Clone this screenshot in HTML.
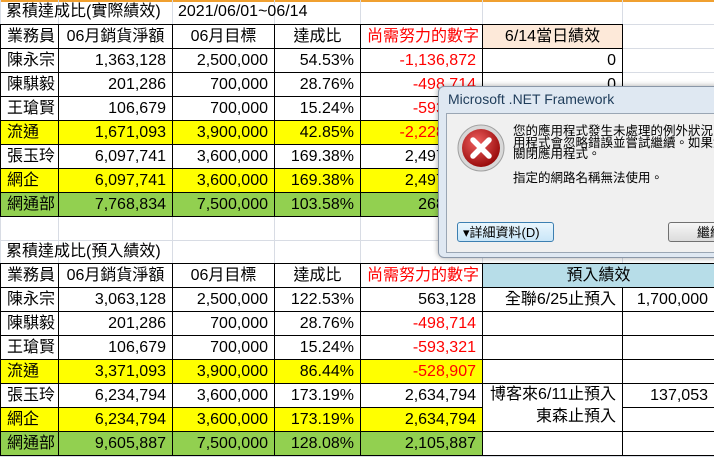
<!DOCTYPE html>
<html><head><meta charset="utf-8">
<style>
body{margin:0;width:714px;height:457px;overflow:hidden;background:#fff;position:relative;font-family:"Liberation Sans","Noto Sans CJK TC",sans-serif;font-size:16px;color:#000}
.c{position:absolute;box-sizing:border-box;white-space:nowrap;overflow:hidden;line-height:23px;padding:0 6px}
.g{position:absolute;background:#d8dce4}
.dlg{position:absolute;left:438px;top:86px;width:290px;height:170px;background:#dfe8f2;border:1px solid #8a97a8;border-radius:6px;box-shadow:0 0 6px rgba(0,0,0,.35)}
.inner{position:absolute;left:7px;top:26px;right:0;bottom:4px;background:#f0f0f0;border:1px solid #9aa6b4;overflow:hidden}
.btn{position:absolute;top:108px;height:20px;border:1px solid #707070;border-radius:3px;background:linear-gradient(#f6f6f6,#dcdcdc);font-size:13px;line-height:20px;box-sizing:border-box;white-space:nowrap}
.ml{position:absolute;left:66px;font-size:12.5px;line-height:13px;white-space:nowrap;color:#000}
</style></head>
<body>
<div style="position:absolute;left:0;top:0;width:714px;height:2px;background:#f0a030"></div>
<div id="sheet"></div>

<div class="dlg">
 <div style="position:absolute;left:9px;top:4px;font-size:14px;color:#1e3c5a;white-space:nowrap">Microsoft .NET Framework</div>
 <div class="inner">
  <svg style="position:absolute;left:9px;top:9px" width="50" height="50" viewBox="0 0 50 50">
   <defs><radialGradient id="rg" cx="40%" cy="35%" r="65%"><stop offset="0" stop-color="#f06060"/><stop offset="1" stop-color="#9a0c0c"/></radialGradient></defs>
   <circle cx="25" cy="25" r="23" fill="#d8d8d8" stroke="#a0a0a0"/>
   <circle cx="25" cy="25" r="19" fill="url(#rg)"/>
   <path d="M17 17 L33 33 M33 17 L17 33" stroke="#fff" stroke-width="5.5" stroke-linecap="round"/>
  </svg>
  <div class="ml" style="top:11px">您的應用程式發生未處理的例外狀況。如果</div>
  <div class="ml" style="top:22.5px">用程式會忽略錯誤並嘗試繼續。如果您</div>
  <div class="ml" style="top:34px">關閉應用程式。</div>
  <div class="ml" style="top:58px">指定的網路名稱無法使用。</div>
  <div class="btn" style="left:10px;width:97px;padding-left:5px;border-color:#3c7fb1;background:linear-gradient(#eaf6fd,#c9e6f8)">▾詳細資料(D)</div>
  <div class="btn" style="left:221px;width:80px;padding-left:28px">繼續</div>
 </div>
</div>

<script>
const cols=[0,58,172,274,360,482,622,714];
const hdr=["業務員","06月銷貨淨額","06月目標","達成比","尚需努力的數字"];
const names=["陳永宗","陳騏毅","王瑲賢","流通","張玉玲","網企","網通部"];
const sales1=["1,363,128","201,286","106,679","1,671,093","6,097,741","6,097,741","7,768,834"];
const target=["2,500,000","700,000","700,000","3,900,000","3,600,000","3,600,000","7,500,000"];
const rate1=["54.53%","28.76%","15.24%","42.85%","169.38%","169.38%","103.58%"];
const gap1=["-1,136,872","-498,714","-593,321","-2,228,907","2,497,741","2,497,741","268,834"];
const day1=["0","0","0","0","0","0","0"];
const sales2=["3,063,128","201,286","106,679","3,371,093","6,234,794","6,234,794","9,605,887"];
const rate2=["122.53%","28.76%","15.24%","86.44%","173.19%","173.19%","128.08%"];
const gap2=["563,128","-498,714","-593,321","-528,907","2,634,794","2,634,794","2,105,887"];
const pre2=["1,700,000","","","","137,053","",""];
const rowBg=["#fff","#fff","#fff","#ffff00","#fff","#ffff00","#92d050"];
const S=document.getElementById('sheet');
function g(x,y,w,h){const d=document.createElement('div');d.className='g';


d.style.cssText=`left:${x}px;top:${y}px;width:${w}px;height:${h}px`;S.appendChild(d);}
cols.forEach(x=>g(x,0,1,457));
for(let y=24;y<457;y+=24)g(0,y,714,1);
g(0,263,714,1);
function cell(x1,x2,y1,y2,t,o){o=o||{};const d=document.createElement('div');d.className='c';


d.style.left=x1+'px';d.style.top=y1+'px';d.style.width=(x2-x1+(o.nb?0:1))+'px';d.style.height=(y2-y1+(o.nb?0:1))+'px';
if(!o.nb)d.style.border='1px solid #000';
d.style.background=o.bg||(o.nb?'transparent':'#fff');
d.style.textAlign=o.al||'right';if(o.col)d.style.color=o.col;if(o.lh)d.style.lineHeight=o.lh;
d.innerHTML=t;S.appendChild(d);}
cell(0,172,0,24,"累積達成比(實際績效)",{nb:1,al:'left',name:'title-actual'});
cell(172,360,0,24,"2021/06/01~06/14",{nb:1,al:'left',name:'date-range'});
cell(0,360,240,263,"累積達成比(預入績效)",{nb:1,al:'left',name:'title-forecast'});
function table(y0,sales,rate,gap,name){
 hdr.forEach((h,i)=>cell(cols[i],cols[i+1],y0,y0+24,h,{al:i==0?'left':'center',col:i==4?'#ff0000':null,name:name+'-header-'+i}));
 names.forEach((n,r)=>{const y=y0+24*(r+1),bg=rowBg[r];
  cell(cols[0],cols[1],y,y+24,n,{al:'left',bg,name:name+'-name'});
  cell(cols[1],cols[2],y,y+24,sales[r],{bg,name:name+'-sales'});
  cell(cols[2],cols[3],y,y+24,target[r],{bg,name:name+'-target'});
  cell(cols[3],cols[4],y,y+24,rate[r],{bg,name:name+'-rate'});
  cell(cols[4],cols[5],y,y+24,gap[r],{bg,col:gap[r][0]=='-'?'#ff0000':null,name:name+'-gap'});
 });}
table(24,sales1,rate1,gap1,'actual');
cell(cols[5],cols[6],24,48,"6/14當日績效",{al:'center',bg:'#fde9d9',name:'today-header'});
day1.forEach((v,r)=>cell(cols[5],cols[6],48+24*r,72+24*r,v,{name:'today-value'}));
table(263,sales2,rate2,gap2,'forecast');
cell(cols[5],cols[7],263,287,"預入績效",{al:'center',bg:'#b7dde8',name:'forecast-header'});
const lab=["全聯6/25止預入","","","",null,null,""];
[0,1,2,3,6].forEach(r=>cell(cols[5],cols[6],287+24*r,311+24*r,lab[r],{name:'forecast-label'}));
cell(cols[5],cols[6],383,431,"博客來6/11止預入<br>東森止預入",{lh:'22px',name:'forecast-label'});
pre2.forEach((v,r)=>cell(cols[6],cols[7],287+24*r,311+24*r,v,{name:'forecast-value'}));
</script>
</body></html>
